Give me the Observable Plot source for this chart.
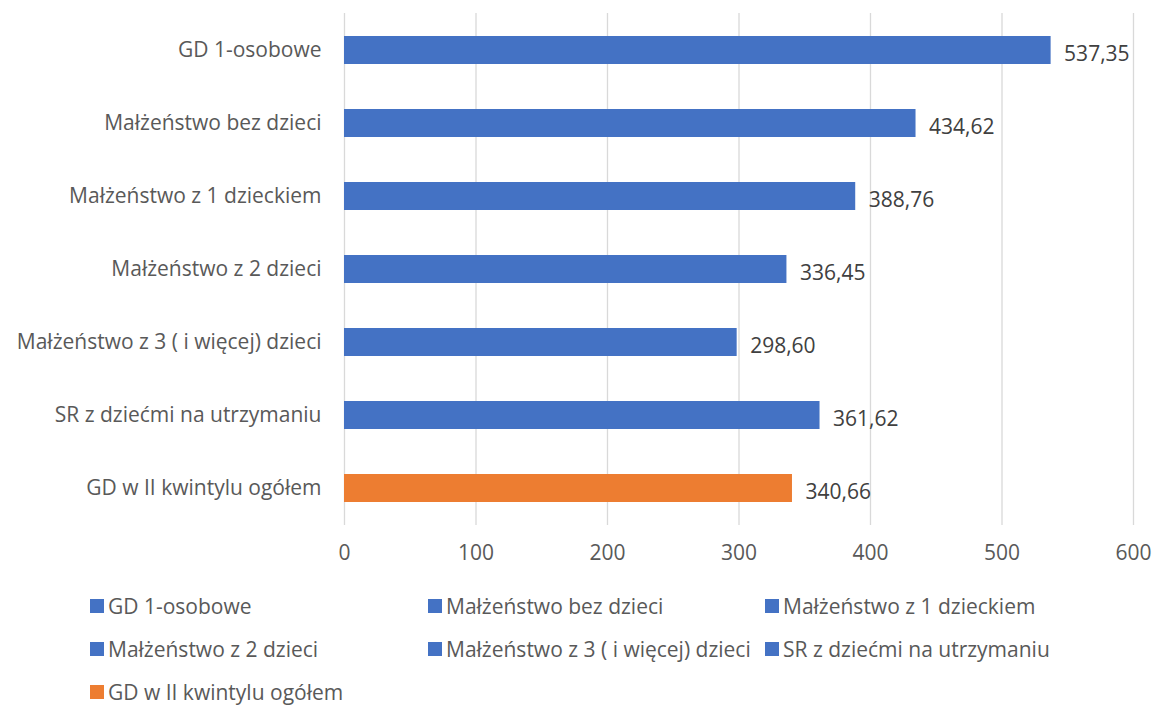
<!DOCTYPE html>
<html>
<head>
<meta charset="utf-8">
<script src="https://cdn.jsdelivr.net/npm/d3@7"></script>
<script src="https://cdn.jsdelivr.net/npm/@observablehq/plot@0.6"></script>
<style>
  html, body { margin: 0; padding: 0; background: #fff; }
  body { width: 1154px; height: 709px; overflow: hidden; font-family: "Open Sans", sans-serif; color: #595959; }
  #chart svg { display: block; }
  #legend { position: relative; margin-left: 90px; display: grid; grid-template-columns: 338px 337px 337px; row-gap: 17px; margin-top: 18px; font-size: 21px; line-height: 26px; }
  .item { display: flex; align-items: center; white-space: nowrap; }
  .sw { width: 14px; height: 14px; margin-right: 4px; flex: none; }
</style>
</head>
<body>
<div id="chart"></div>
<div id="legend"></div>
<script>
const categories = [
  "GD 1-osobowe",
  "Małżeństwo bez dzieci",
  "Małżeństwo z 1 dzieckiem",
  "Małżeństwo z 2 dzieci",
  "Małżeństwo z 3 ( i więcej) dzieci",
  "SR z dziećmi na utrzymaniu",
  "GD w II kwintylu ogółem"
];
const values = [537.35, 434.62, 388.76, 336.45, 298.60, 361.62, 340.66];
const colors = ["#4472C4", "#4472C4", "#4472C4", "#4472C4", "#4472C4", "#4472C4", "#ED7D31"];
const xTicks = [0, 100, 200, 300, 400, 500, 600];

const data = categories.map((c, i) => ({category: c, value: values[i], color: colors[i]}));
const fmt = v => v.toFixed(2).replace(".", ",");

const chart = Plot.plot({
  width: 1154,
  height: 575,
  marginLeft: 344,
  marginRight: 21,
  marginTop: 13,
  marginBottom: 50,
  style: {fontFamily: "Open Sans, sans-serif", fontSize: "21px", color: "#595959", background: "#fff"},
  x: {domain: [0, 600], ticks: xTicks, tickSize: 0, tickPadding: 20, label: null, tickFormat: d => String(d)},
  y: {domain: categories, paddingInner: 0.62, paddingOuter: 0.31, tickSize: 0, tickPadding: 23, label: null},
  marks: [
    Plot.ruleX(xTicks, {stroke: "#d9d9d9", strokeWidth: 1.3}),
    Plot.barX(data, {y: "category", x: "value", fill: "color"}),
    Plot.text(data, {y: "category", x: "value", text: d => fmt(d.value), textAnchor: "start", dx: 13, dy: 4, fill: "#404040", fontSize: 21})
  ]
});
document.getElementById("chart").appendChild(chart);

const legend = document.getElementById("legend");
data.forEach(d => {
  const it = document.createElement("div");
  it.className = "item";
  const sw = document.createElement("span");
  sw.className = "sw";
  sw.style.background = d.color;
  const t = document.createElement("span");
  t.textContent = d.category;
  it.appendChild(sw); it.appendChild(t);
  legend.appendChild(it);
});
</script>
</body>
</html>
